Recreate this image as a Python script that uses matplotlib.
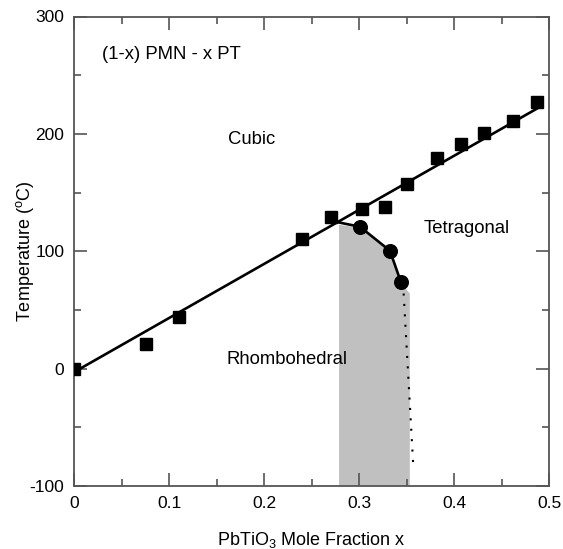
import matplotlib
matplotlib.use("Agg")
import matplotlib.pyplot as plt
from matplotlib.ticker import MultipleLocator

plt.rcParams['font.family'] = ['Liberation Sans', 'DejaVu Sans']
plt.rcParams['mathtext.fontset'] = 'custom'
plt.rcParams['mathtext.rm'] = 'Liberation Sans'
plt.rcParams['mathtext.it'] = 'Liberation Sans:italic'

# Tc (cubic transition) data - squares
sq_x = [0.0, 0.0755, 0.110, 0.240, 0.2700, 0.3035, 0.327, 0.350, 0.3825, 0.407, 0.4316, 0.4618, 0.487]
sq_T = [0.0, 21.2, 43.7, 110.4, 128.9, 135.7, 137.9, 157.2, 179.4, 191.3, 200.4, 210.6, 227.0]

# linear fit line through Tc
fit_x = [0.0, 0.4905]
fit_T = [-3.0, 223.0]

# rhombohedral-tetragonal boundary - circles
circ_x = [0.301, 0.3326, 0.344]
circ_T = [120.9, 100.4, 74.0]

# boundary line (from Tc line through circles)
bnd_x = [0.279, 0.301, 0.3326, 0.344]
bnd_T = [124.5, 120.9, 100.4, 74.0]

# shaded MPB region outline
mpb_x = [0.279, 0.279, 0.301, 0.3326, 0.344, 0.3535, 0.3535]
mpb_T = [-100, 122.5, 120.0, 99.5, 73.0, 64.0, -100]

# dotted extension
dot_x = [0.347, 0.357]
dot_T = [64.0, -81.0]

fig = plt.figure(figsize=(5.63, 5.49), dpi=100)
ax = fig.add_axes([74/563, 1-486/549, (549-74)/563, (486-16.5)/549])

ax.fill(mpb_x, mpb_T, color='#c0c0c0', lw=0, zorder=1)
ax.plot(fit_x, fit_T, color='black', lw=1.9, zorder=3)
ax.plot(bnd_x, bnd_T, color='black', lw=1.9, zorder=3)
ax.plot(dot_x, dot_T, color='black', lw=1.5, linestyle=(0, (1, 4.0)), zorder=3)
ax.plot(sq_x, sq_T, linestyle='none', marker='s', markersize=9.3, color='black', zorder=4)
ax.plot(circ_x, circ_T, linestyle='none', marker='o', markersize=9.8, color='black', zorder=4)

ax.set_xlim(0, 0.5)
ax.set_ylim(-100, 300)
ax.xaxis.set_major_locator(MultipleLocator(0.1))
ax.xaxis.set_minor_locator(MultipleLocator(0.05))
ax.yaxis.set_major_locator(MultipleLocator(100))
ax.yaxis.set_minor_locator(MultipleLocator(50))
ax.set_xticks([0, 0.1, 0.2, 0.3, 0.4, 0.5])
ax.set_xticklabels(['0', '0.1', '0.2', '0.3', '0.4', '0.5'])
ax.set_yticks([-100, 0, 100, 200, 300])
ax.set_yticklabels(['-100', '0', '100', '200', '300'])

spine_col = '#555555'
for s in ax.spines.values():
    s.set_color(spine_col)
    s.set_linewidth(1.3)
ax.tick_params(which='both', direction='in', top=True, right=True, color=spine_col, width=1.2,
               labelsize=12.5, labelcolor='black')
ax.tick_params(which='major', length=9.5, pad=7)
ax.tick_params(which='minor', length=5)

ax.set_xlabel('PbTiO$_3$ Mole Fraction x', fontsize=13, labelpad=14)
ax.set_ylabel('Temperature ($^{\\rm o}$C)', fontsize=13)
ax.yaxis.set_label_coords(-0.08, 0.5)

ax.text(0.0295, 268, '(1-x) PMN - x PT', fontsize=13.3, va='center', ha='left')
ax.text(0.162, 195.6, 'Cubic', fontsize=13.3, va='center', ha='left')
ax.text(0.368, 119.8, 'Tetragonal', fontsize=13.3, va='center', ha='left')
ax.text(0.161, 8.2, 'Rhombohedral', fontsize=13.3, va='center', ha='left')

fig.savefig('out.png', dpi=100)
